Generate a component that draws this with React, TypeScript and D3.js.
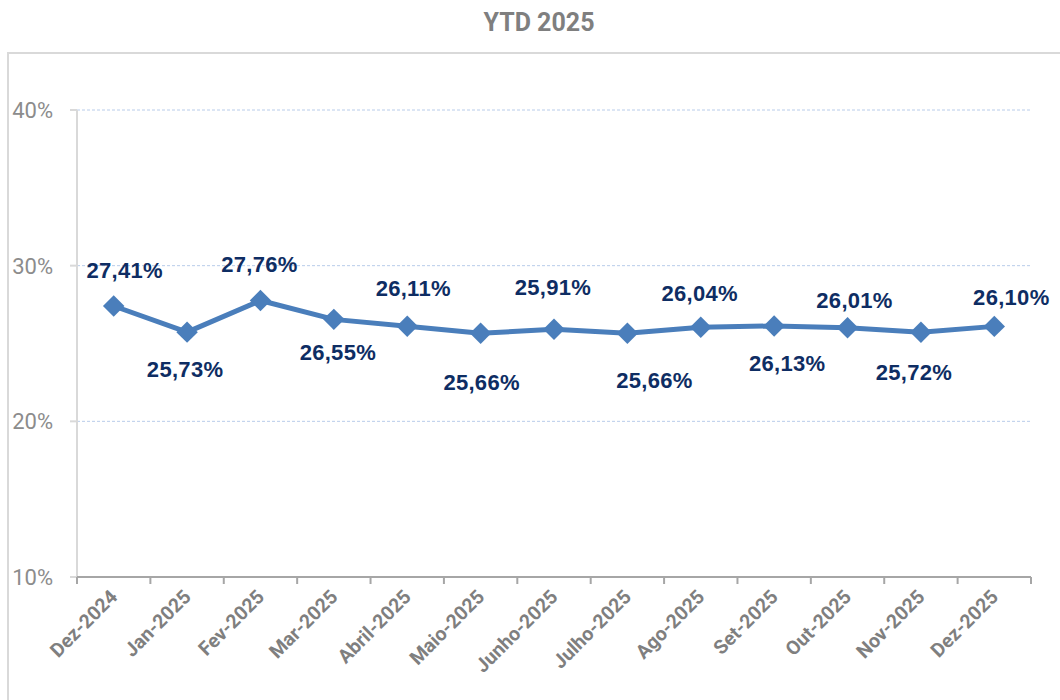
import React from "react";
import * as d3 from "d3";

const categories = ["Dez-2024","Jan-2025","Fev-2025","Mar-2025","Abril-2025","Maio-2025","Junho-2025","Julho-2025","Ago-2025","Set-2025","Out-2025","Nov-2025","Dez-2025"];
const values = [27.41, 25.73, 27.76, 26.55, 26.11, 25.66, 25.91, 25.66, 26.04, 26.13, 26.01, 25.72, 26.10];
const yTicks = [10, 20, 30, 40];
const title = "YTD 2025";

// layout: data-label offsets from each point (dx, dy to baseline)
const labelDx = [11, -2, -1, 4, 6, 1, -1, 27, -1, 13, 7, -7, 17];
const labelDy = [-28, 45, -29, 41, -30, 57, -34, 55, -26, 45, -20, 48, -21];

const W = 1060, H = 700;

export default function App() {
  const x = d3.scaleBand<string>().domain(categories).range([77, 1031]);
  const y = d3.scaleLinear().domain([10, 40]).range([577, 110]);
  const cx = (c: string) => (x(c) as number) + x.bandwidth() / 2;
  const line = d3.line<number>().x((_, i) => cx(categories[i])).y((v) => y(v));
  const diamond = d3.symbol().type(d3.symbolSquare).size(230)();
  const fmt = (v: number) => v.toFixed(2).replace(".", ",") + "%";
  const tickPositions = [...categories.map((c) => x(c) as number), 1031];

  return (
    <svg width={W} height={H} style={{ position: "absolute", left: 0, top: 0, background: "#fff" }}>
      <rect x={8} y={53} width={1070} height={700} fill="none" stroke="#D9D9D9" strokeWidth={2} />
      <text x={539} y={31} textAnchor="middle" fontFamily="Roboto, 'Liberation Sans', sans-serif" fontWeight="bold" fontSize={25} fill="#7F7F7F">{title}</text>

      {yTicks.filter((t) => t !== 10).map((t) => (
        <line key={"g" + t} x1={77} x2={1031} y1={y(t)} y2={y(t)} stroke="#B8CCEA" strokeWidth={1} strokeDasharray="3,2" />
      ))}
      <line x1={77} x2={77} y1={y(40)} y2={y(10)} stroke="#D9D9D9" strokeWidth={2} />
      {yTicks.map((t) => (
        <g key={"y" + t}>
          <line x1={70} x2={77} y1={y(t)} y2={y(t)} stroke="#D9D9D9" strokeWidth={2} />
          <text x={53} y={y(t) + 8} textAnchor="end" fontFamily="Roboto, 'Liberation Sans', sans-serif" fontSize={22} fill="#8C8C8C">{t}%</text>
        </g>
      ))}
      <line x1={77} x2={1031} y1={y(10)} y2={y(10)} stroke="#A6A6A6" strokeWidth={2} />
      {tickPositions.map((p, i) => (
        <line key={"t" + i} x1={p} x2={p} y1={y(10)} y2={y(10) + 7} stroke="#A6A6A6" strokeWidth={2} />
      ))}
      {categories.map((c) => (
        <text key={"x" + c} transform={`translate(${cx(c) + 5},${y(10) + 21}) rotate(-45)`} textAnchor="end" fontFamily="Roboto, 'Liberation Sans', sans-serif" fontWeight="bold" fontSize={19.5} fill="#7F7F7F">{c}</text>
      ))}

      <path d={line(values) as string} fill="none" stroke="#4A7EBB" strokeWidth={5} strokeLinejoin="round" />
      {values.map((v, i) => (
        <path key={"m" + i} d={diamond as string} transform={`translate(${cx(categories[i])},${y(v)}) rotate(45)`} fill="#4A7EBB" />
      ))}
      {values.map((v, i) => (
        <text key={"l" + i} x={cx(categories[i]) + labelDx[i]} y={y(v) + labelDy[i]} textAnchor="middle" fontFamily="'Liberation Sans', Arial, sans-serif" fontWeight="bold" fontSize={22} letterSpacing={0.3} fill="#0E2D63">{fmt(v)}</text>
      ))}
    </svg>
  );
}
